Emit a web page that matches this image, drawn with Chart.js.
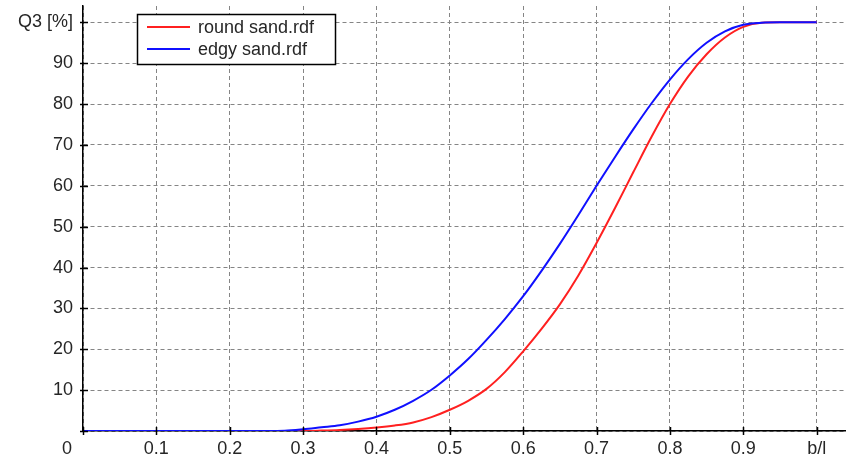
<!DOCTYPE html>
<html>
<head>
<meta charset="utf-8">
<script src="https://cdn.jsdelivr.net/npm/chart.js@4.4.1/dist/chart.umd.min.js"></script>
<style>
  html, body { margin: 0; padding: 0; background: #fff; }
  #wrap { width: 846px; height: 459px; position: relative; }
</style>
</head>
<body>
<div id="wrap"><canvas id="c"></canvas></div>
<script>
const xValues = [0, 0.05, 0.1, 0.15, 0.2, 0.25,
  0.275, 0.3, 0.325, 0.35, 0.375, 0.4, 0.425, 0.45, 0.475, 0.5,
  0.525, 0.55, 0.575, 0.6, 0.625, 0.65, 0.675, 0.7, 0.725, 0.75,
  0.775, 0.8, 0.825, 0.85, 0.875, 0.9, 0.925, 0.95, 1.0];
const roundSand = [0, 0, 0, 0, 0, 0,
  0, 0, 0.1, 0.25, 0.5, 0.85, 1.35, 2.1, 3.4, 5.2,
  7.4, 10.3, 14.4, 19.5, 25, 31, 38, 46, 54.5, 63.3,
  72, 80, 86.8, 92.2, 96.3, 98.9, 99.9, 100, 100];
const edgySand = [0, 0, 0, 0, 0, 0,
  0.05, 0.4, 0.9, 1.4, 2.3, 3.5, 5.2, 7.4, 10.1, 13.6,
  17.6, 22.3, 27.4, 33, 39.2, 45.8, 52.8, 60, 67, 73.8,
  80.2, 86, 91, 95, 97.8, 99.4, 99.9, 100, 100];
const seriesLabels = ['round sand.rdf', 'edgy sand.rdf'];
const xAxisTitle = 'b/l';
const yAxisTitle = 'Q3 [%]';
const originLabel = '0';

const FONT = '"Liberation Sans", Arial, sans-serif';
const FSIZE = 18;
const TEXT = '#262626';

const toPts = ys => xValues.map((x, i) => ({x: x, y: ys[i]}));

const decor = {
  id: 'decor',
  afterDraw(chart) {
    const ctx = chart.ctx;
    const xs = chart.scales.x, ys = chart.scales.y;
    ctx.save();
    ctx.strokeStyle = '#000';
    ctx.lineWidth = 1.5;
    xs.ticks.forEach(t => {
      const px = Math.round(xs.getPixelForValue(t.value)) + 0.5;
      ctx.beginPath(); ctx.moveTo(px, ys.bottom - 4); ctx.lineTo(px, ys.bottom + 4); ctx.stroke();
    });
    ys.ticks.forEach(t => {
      const py = Math.round(ys.getPixelForValue(t.value)) + 0.5;
      ctx.beginPath(); ctx.moveTo(xs.left - 3, py); ctx.lineTo(xs.left + 5, py); ctx.stroke();
    });
    ctx.fillStyle = TEXT;
    ctx.font = FSIZE + 'px ' + FONT;
    ctx.textAlign = 'center';
    ctx.textBaseline = 'middle';
    ctx.fillText(originLabel, xs.left - 16, ys.bottom + 18.5);
    const bx = 137.5, by = 14.5, bw = 198, bh = 50;
    ctx.fillStyle = '#fff';
    ctx.fillRect(bx, by, bw, bh);
    ctx.lineWidth = 1.5;
    ctx.strokeStyle = '#000';
    ctx.strokeRect(bx, by, bw, bh);
    const ds = chart.data.datasets;
    const rows = [27, 49];
    [0, 1].forEach(i => {
      ctx.strokeStyle = ds[i].borderColor;
      ctx.lineWidth = 2;
      ctx.beginPath(); ctx.moveTo(147, rows[i]); ctx.lineTo(190, rows[i]); ctx.stroke();
      ctx.fillStyle = TEXT;
      ctx.textAlign = 'left';
      ctx.fillText(ds[i].label, 198, rows[i] + 1);
    });
    ctx.restore();
  }
};

new Chart(document.getElementById('c'), {
  type: 'line',
  data: {
    datasets: [
      { label: seriesLabels[0], data: toPts(roundSand), borderColor: '#ff2020', borderWidth: 2, pointRadius: 0, cubicInterpolationMode: 'monotone', order: 2 },
      { label: seriesLabels[1], data: toPts(edgySand), borderColor: '#1010ff', borderWidth: 2, pointRadius: 0, cubicInterpolationMode: 'monotone', order: 1 }
    ]
  },
  options: {
    responsive: true,
    maintainAspectRatio: false,
    animation: false,
    layout: { padding: { top: 6, right: 0, left: 0, bottom: 0 } },
    plugins: { legend: { display: false }, tooltip: { enabled: false } },
    scales: {
      x: {
        type: 'linear', min: 0, max: 1.04,
        afterFit(s) { s.height = 28; s.paddingLeft = 0; s.paddingRight = 0; },
        ticks: {
          stepSize: 0.1, includeBounds: false, autoSkip: false, maxRotation: 0,
          padding: 7, color: TEXT, font: { family: FONT, size: FSIZE },
          callback: v => {
            const r = Math.round(v * 10) / 10;
            if (r === 0) return '';
            if (r === 1) return xAxisTitle;
            return r.toFixed(1);
          }
        },
        grid: { color: '#858585', lineWidth: 1, drawTicks: false },
        border: { color: '#000', width: 1.5, dash: [4, 3] }
      },
      y: {
        type: 'linear', min: 0, max: 104,
        afterFit(s) { s.width = 83; s.paddingTop = 0; s.paddingBottom = 0; },
        ticks: {
          stepSize: 10, includeBounds: false, autoSkip: false,
          padding: 10, color: TEXT, font: { family: FONT, size: FSIZE },
          callback: v => {
            if (v === 0) return '';
            if (v === 100) return yAxisTitle;
            return String(v);
          }
        },
        grid: { color: '#858585', lineWidth: 1, drawTicks: false },
        border: { color: '#000', width: 1.5, dash: [4, 3] }
      }
    }
  },
  plugins: [decor]
});
</script>
</body>
</html>
